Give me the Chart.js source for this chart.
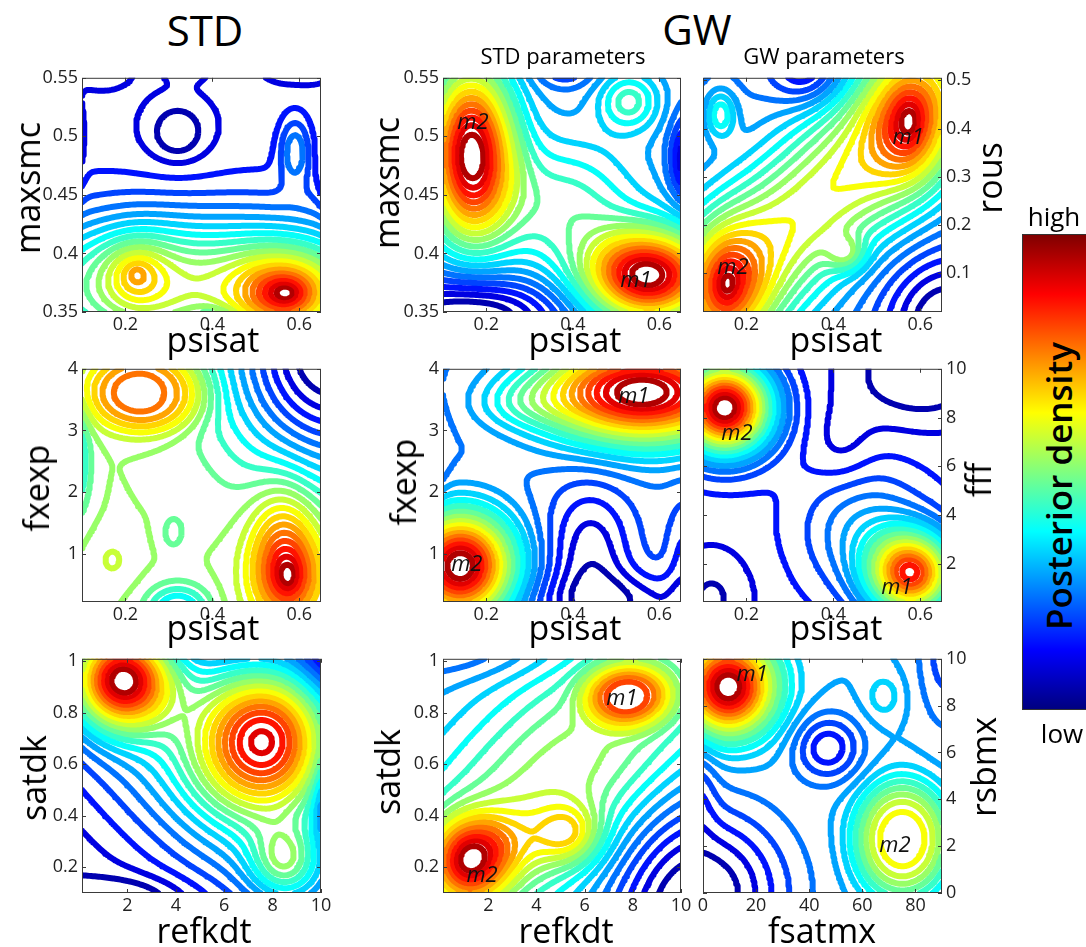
<!DOCTYPE html>
<html><head><meta charset="utf-8">
<script src="https://cdn.jsdelivr.net/npm/chart.js@4.4.1/dist/chart.umd.min.js"></script>
<style>
body{margin:0;background:#fff;width:1086px;height:947px;overflow:hidden;position:relative;font-family:'Open Sans',sans-serif;}
canvas{position:absolute;}
.t{position:absolute;white-space:nowrap;line-height:1;color:#000;transform:translate(-50%,-50%);}
.r{transform:translate(-50%,-50%) rotate(-90deg);}
#cbar{position:absolute;left:1022px;top:234px;width:64px;height:476px;box-sizing:border-box;border:1px solid #333;border-right:none;
background:linear-gradient(to top,rgb(0,0,128) 0%,rgb(0,0,255) 12.5%,rgb(0,255,255) 37.5%,rgb(255,255,0) 62.5%,rgb(255,0,0) 87.5%,rgb(128,0,0) 100%);}
</style></head><body>
<div id="cbar"></div>
<script>
// ---------------- data ----------------
const psisatRange = [0.1, 0.65];
const maxsmcRange = [0.35, 0.55];
const rousRange   = [0.02, 0.505];
const fxexpRange  = [0.22, 4];
const fffRange    = [0.44, 10];
const refkdtRange = [0.12, 10];
const satdkRange  = [0.1, 1.01];
const fsatmxRange = [0, 90];
const rsbmxRange  = [0, 10];

const psisatTicks = [0.2, 0.4, 0.6];
const maxsmcTicks = [0.35, 0.4, 0.45, 0.5, 0.55];
const rousTicks   = [0.1, 0.2, 0.3, 0.4, 0.5];
const fxexpTicks  = [1, 2, 3, 4];
const fffTicks    = [2, 4, 6, 8, 10];
const refkdtTicks = [2, 4, 6, 8, 10];
const satdkTicks  = [0.2, 0.4, 0.6, 0.8, 1];
const fsatmxTicks = [0, 20, 40, 60, 80];
const rsbmxTicks  = [0, 2, 4, 6, 8, 10];

// posterior density features: [x, y, weight, spreadX, spreadY, corr, shape]
const stdPsisatMaxsmcBase = 0.13;
const stdPsisatMaxsmc = [
  [0.57, 0.366, 0.6, 0.06, 0.018, 0, 1.4],
  [0.225, 0.383, 0.27, 0.045, 0.018, 0, 1.4],
  [0.35, 0.37, 0.45, 0.35, 0.045],
  [0.40, 0.34, -0.12, 0.04, 0.01],
  [0.32, 0.503, -0.09, 0.04, 0.015],
  [0.32, 0.503, -0.04, 0.08, 0.03],
  [0.59, 0.488, 0.16, 0.025, 0.02],
  [0.14, 0.56, -0.09, 0.045, 0.012],
  [0.34, 0.565, -0.08, 0.035, 0.01],
  [0.60, 0.565, -0.09, 0.06, 0.013],
  [0.09, 0.49, -0.06, 0.012, 0.03],
  [0.665, 0.47, -0.08, 0.015, 0.025]
];
const gwPsisatMaxsmcBase = 0.3;
const gwPsisatMaxsmc = [
  [0.165, 0.485, 0.65, 0.07, 0.05],
  [0.575, 0.381, 0.65, 0.1, 0.027],
  [0.38, 0.44, 0.18, 0.12, 0.04],
  [0.53, 0.53, 0.17, 0.05, 0.018],
  [0.67, 0.48, -0.2, 0.03, 0.025],
  [0.38, 0.56, -0.1, 0.05, 0.012],
  [0.16, 0.345, -0.25, 0.15, 0.025]
];
const gwPsisatRousBase = 0.2;
const gwPsisatRous = [
  [0.375, 0.26, 0.4, 0.3, 0.26, 0.85],
  [0.575, 0.415, 0.5, 0.05, 0.07, 0, 1.4],
  [0.155, 0.078, 0.5, 0.05, 0.065, 0, 1.4],
  [0.43, 0.14, 0.15, 0.03, 0.025],
  [0.14, 0.43, 0.18, 0.025, 0.035],
  [0.34, 0.52, -0.17, 0.06, 0.05],
  [0.66, 0.0, -0.25, 0.1, 0.1]
];
const stdPsisatFxexpBase = 0.5;
const stdPsisatFxexp = [
  [0.575, 0.62, 0.35, 0.04, 0.35, 0, 1.4],
  [0.565, 1.2, 0.2, 0.055, 0.7],
  [0.245, 3.62, 0.28, 0.108, 0.52, 0, 3],
  [0.68, 4.3, -0.55, 0.17, 1.4],
  [0.07, 2.5, -0.22, 0.03, 0.6],
  [0.32, 0.05, -0.22, 0.05, 0.3],
  [0.31, 1.35, -0.07, 0.02, 0.22],
  [0.17, 0.9, 0.05, 0.035, 0.3]
];
const gwPsisatFxexpBase = 0.32;
const gwPsisatFxexp = [
  [0.56, 3.62, 0.68, 0.16, 0.57],
  [0.28, 3.45, 0.08, 0.08, 0.3],
  [0.14, 0.8, 0.68, 0.085, 0.6],
  [0.44, 1.0, -0.14, 0.07, 0.8],
  [0.52, 0.2, -0.12, 0.15, 0.35],
  [0.66, 0.9, -0.08, 0.03, 0.7],
  [0.08, 2.6, -0.06, 0.02, 0.5]
];
const gwPsisatFffBase = 0.15;
const gwPsisatFff = [
  [0.15, 8.4, 0.85, 0.075, 1.3],
  [0.58, 1.6, 0.68, 0.07, 1.2],
  [0.47, 3.4, 0.15, 0.1, 1.8],
  [0.60, 9.8, -0.12, 0.12, 1.5],
  [0.12, 0.6, -0.08, 0.07, 1.5],
  [0.42, 6.8, -0.05, 0.05, 1.2]
];
const stdRefkdtSatdkBase = 0.0;
const stdRefkdtSatdk = [
  [5.0, 0.6, 0.3, 5.5, 0.5, -0.7],
  [1.8, 0.93, 0.75, 1.4, 0.13],
  [7.8, 0.71, 0.71, 2.0, 0.2],
  [8.5, 0.22, 0.26, 1.0, 0.1],
  [10.4, 0.45, -0.15, 0.4, 0.1],
  [10.4, 1.05, -0.1, 0.8, 0.1],
  [2.0, 0.08, -0.08, 1.8, 0.06]
];
const gwRefkdtSatdkBase = 0.2;
const gwRefkdtSatdk = [
  [5.0, 0.55, 0.32, 5.5, 0.5, 0.7],
  [1.2, 0.22, 0.5, 1.1, 0.11],
  [3.0, 0.30, 0.12, 1.6, 0.1],
  [5.4, 0.33, 0.2, 0.9, 0.08],
  [7.8, 0.87, 0.38, 1.45, 0.1, 0, 3],
  [10.5, 0.05, -0.3, 2.5, 0.3],
  [0.5, 1.05, -0.08, 3, 0.08]
];
const gwFsatmxRsbmxBase = 0.33;
const gwFsatmxRsbmx = [
  [9.5, 8.8, 0.7, 12, 1.4],
  [75, 2.3, 0.36, 14.5, 2.0, 0, 3],
  [47, 6.2, -0.17, 9, 1.0],
  [68, 8.4, 0.07, 5, 0.7],
  [0, 0, -0.28, 22, 2.5],
  [92, 10.5, -0.12, 8, 2.5],
  [-2, 4.5, -0.08, 5, 1.5]
];
// mode labels
const modesGwPsisatMaxsmc = [['m2', 0.169, 0.5115], ['m1', 0.546, 0.377]];
const modesGwPsisatRous   = [['m1', 0.572, 0.38], ['m2', 0.169, 0.112]];
const modesGwPsisatFxexp  = [['m1', 0.541, 3.54], ['m2', 0.155, 0.82]];
const modesGwPsisatFff    = [['m2', 0.178, 7.35], ['m1', 0.546, 1.04]];
const modesGwRefkdtSatdk  = [['m1', 7.55, 0.854], ['m2', 1.74, 0.168]];
const modesGwFsatmxRsbmx  = [['m1', 18.5, 9.3], ['m2', 72.3, 2.0]];

const contourLevels = 20;

// ---------------- layout (positions/sizes) ----------------
const colLeft = [82, 443, 703], colWidth = [239, 238, 239];
const rowTop = [73, 364, 654], rowHeight = [239, 238, 239];

const panels = [
  {r:0,c:0,xr:psisatRange,yr:maxsmcRange,xt:psisatTicks,yt:maxsmcTicks,base:stdPsisatMaxsmcBase,comps:stdPsisatMaxsmc,modes:[],side:'left'},
  {r:0,c:1,xr:psisatRange,yr:maxsmcRange,xt:psisatTicks,yt:maxsmcTicks,base:gwPsisatMaxsmcBase,comps:gwPsisatMaxsmc,modes:modesGwPsisatMaxsmc,side:'left'},
  {r:0,c:2,xr:psisatRange,yr:rousRange,xt:psisatTicks,yt:rousTicks,base:gwPsisatRousBase,comps:gwPsisatRous,modes:modesGwPsisatRous,side:'right'},
  {r:1,c:0,xr:psisatRange,yr:fxexpRange,xt:psisatTicks,yt:fxexpTicks,base:stdPsisatFxexpBase,comps:stdPsisatFxexp,modes:[],side:'left'},
  {r:1,c:1,xr:psisatRange,yr:fxexpRange,xt:psisatTicks,yt:fxexpTicks,base:gwPsisatFxexpBase,comps:gwPsisatFxexp,modes:modesGwPsisatFxexp,side:'left'},
  {r:1,c:2,xr:psisatRange,yr:fffRange,xt:psisatTicks,yt:fffTicks,base:gwPsisatFffBase,comps:gwPsisatFff,modes:modesGwPsisatFff,side:'right'},
  {r:2,c:0,xr:refkdtRange,yr:satdkRange,xt:refkdtTicks,yt:satdkTicks,base:stdRefkdtSatdkBase,comps:stdRefkdtSatdk,modes:[],side:'left'},
  {r:2,c:1,xr:refkdtRange,yr:satdkRange,xt:refkdtTicks,yt:satdkTicks,base:gwRefkdtSatdkBase,comps:gwRefkdtSatdk,modes:modesGwRefkdtSatdk,side:'left'},
  {r:2,c:2,xr:fsatmxRange,yr:rsbmxRange,xt:fsatmxTicks,yt:rsbmxTicks,base:gwFsatmxRsbmxBase,comps:gwFsatmxRsbmx,modes:modesGwFsatmxRsbmx,side:'right'}
];

// ---------------- density field + contour tracing ----------------
function compVal(c, x, y){
  const du=(x-c[0])/c[3], dv=(y-c[1])/c[4], r=c[5]||0, p=c[6]||2;
  const q=Math.max(0,(du*du-2*r*du*dv+dv*dv)/(1-r*r));
  return c[2]*Math.exp(-0.5*Math.pow(q,p/2));
}
function jet(t){
  const cl=v=>Math.max(0,Math.min(1,v));
  const r=cl(1.5-Math.abs(4*t-3)), g=cl(1.5-Math.abs(4*t-2)), b=cl(1.5-Math.abs(4*t-1));
  return 'rgb('+Math.round(r*255)+','+Math.round(g*255)+','+Math.round(b*255)+')';
}
function buildContours(p){
  const nx=131, ny=131;
  const xs=[], ys=[];
  for(let i=0;i<nx;i++) xs.push(p.xr[0]+(p.xr[1]-p.xr[0])*i/(nx-1));
  for(let j=0;j<ny;j++) ys.push(p.yr[0]+(p.yr[1]-p.yr[0])*j/(ny-1));
  const F=new Float64Array(nx*ny);
  let fmin=Infinity,fmax=-Infinity;
  for(let j=0;j<ny;j++)for(let i=0;i<nx;i++){
    let v=p.base; for(const c of p.comps) v+=compVal(c,xs[i],ys[j]);
    F[j*nx+i]=v; if(v<fmin)fmin=v; if(v>fmax)fmax=v;
  }
  const sets=[];
  for(let k=0;k<contourLevels;k++){
    const t=(k+1)/(contourLevels+1);
    const L=fmin+t*(fmax-fmin);
    const pts=new Map();
    const H=(i,j)=>2*(j*nx+i), V=(i,j)=>2*(j*nx+i)+1;
    const getPt=(id)=>{
      if(pts.has(id)) return;
      const base=id>>1, isV=id&1; const i=base%nx, j=(base-i)/nx;
      const i1=isV?i:i+1, j1=isV?j+1:j;
      const a=F[j*nx+i], b=F[j1*nx+i1]; const s=(L-a)/(b-a);
      const gx=i+(i1-i)*s, gy=j+(j1-j)*s;
      pts.set(id,{x:p.xr[0]+(p.xr[1]-p.xr[0])*gx/(nx-1), y:p.yr[0]+(p.yr[1]-p.yr[0])*gy/(ny-1)});
    };
    const segs=[];
    const add=(a,b)=>{getPt(a);getPt(b);segs.push([a,b]);};
    for(let j=0;j<ny-1;j++)for(let i=0;i<nx-1;i++){
      const v0=F[j*nx+i],v1=F[j*nx+i+1],v2=F[(j+1)*nx+i+1],v3=F[(j+1)*nx+i];
      const idx=(v0>L?1:0)|(v1>L?2:0)|(v2>L?4:0)|(v3>L?8:0);
      if(idx===0||idx===15) continue;
      const B=H(i,j), R=V(i+1,j), T=H(i,j+1), Lf=V(i,j);
      const cen=(v0+v1+v2+v3)/4;
      switch(idx){
        case 1: case 14: add(Lf,B); break;
        case 2: case 13: add(B,R); break;
        case 3: case 12: add(Lf,R); break;
        case 4: case 11: add(R,T); break;
        case 6: case 9: add(B,T); break;
        case 7: case 8: add(Lf,T); break;
        case 5: if(cen>L){add(B,R);add(Lf,T);} else {add(Lf,B);add(R,T);} break;
        case 10: if(cen>L){add(Lf,B);add(R,T);} else {add(B,R);add(Lf,T);} break;
      }
    }
    const adj=new Map();
    segs.forEach((s,n)=>{for(const e of s){if(!adj.has(e))adj.set(e,[]);adj.get(e).push(n);}});
    const used=new Uint8Array(segs.length);
    const data=[];
    for(let n=0;n<segs.length;n++){
      if(used[n]) continue; used[n]=1;
      const line=[segs[n][0],segs[n][1]];
      let cur=segs[n][1];
      while(true){
        let nx2=-1; for(const m of adj.get(cur)) if(!used[m]){nx2=m;break;}
        if(nx2<0) break; used[nx2]=1;
        const o=segs[nx2][0]===cur?segs[nx2][1]:segs[nx2][0]; line.push(o); cur=o;
        if(cur===line[0]) break;
      }
      cur=segs[n][0];
      if(line[line.length-1]!==line[0]){
        while(true){
          let nx2=-1; for(const m of adj.get(cur)) if(!used[m]){nx2=m;break;}
          if(nx2<0) break; used[nx2]=1;
          const o=segs[nx2][0]===cur?segs[nx2][1]:segs[nx2][0]; line.unshift(o); cur=o;
        }
      }
      for(const id of line){const q=pts.get(id); data.push({x:q.x,y:q.y});}
      data.push({x:null,y:null});
    }
    sets.push({data, showLine:true, borderColor:jet(t), backgroundColor:jet(t), borderWidth:6,
      pointRadius:0, pointHoverRadius:0, tension:0, fill:false, spanGaps:false, clip:0,
      borderCapStyle:'round', borderJoinStyle:'round'});
  }
  return sets;
}

// ---------------- plugins ----------------
const boxPlugin={id:'box',afterDatasetsDraw(chart){
  const {ctx,chartArea:a}=chart; ctx.save();
  ctx.strokeStyle='#3a3a3a'; ctx.lineWidth=1;
  ctx.strokeRect(a.left+0.5,a.top+0.5,a.right-a.left-1,a.bottom-a.top-1);
  ctx.beginPath();
  const xs=chart.scales.x, ys=chart.scales.y;
  xs.ticks.forEach(t=>{const p=Math.round(xs.getPixelForValue(t.value))+0.5;ctx.moveTo(p,a.bottom);ctx.lineTo(p,a.bottom-4);ctx.moveTo(p,a.top);ctx.lineTo(p,a.top+4);});
  ys.ticks.forEach(t=>{const p=Math.round(ys.getPixelForValue(t.value))+0.5;ctx.moveTo(a.left,p);ctx.lineTo(a.left+4,p);ctx.moveTo(a.right,p);ctx.lineTo(a.right-4,p);});
  ctx.stroke(); ctx.restore();
}};
const modePlugin={id:'modes',afterDatasetsDraw(chart,args,opts){
  const items=opts.items||[]; const ctx=chart.ctx; ctx.save();
  ctx.font='italic 22px "Open Sans"'; ctx.fillStyle='#111'; ctx.textAlign='center'; ctx.textBaseline='middle';
  for(const it of items){ctx.fillText(it[0],chart.scales.x.getPixelForValue(it[1]),chart.scales.y.getPixelForValue(it[2]));}
  ctx.restore();
}};

// ---------------- charts ----------------
const tickFont={family:'Open Sans',size:18};
panels.forEach(p=>{
  const L=colLeft[p.c], T=rowTop[p.r], W=colWidth[p.c], Hh=rowHeight[p.r];
  const cv=document.createElement('canvas');
  const cw=W+100, ch=Hh+40;
  cv.width=cw; cv.height=ch; cv.style.width=cw+'px'; cv.style.height=ch+'px';
  cv.style.left=(L-50)+'px'; cv.style.top=(T-10)+'px';
  document.body.appendChild(cv);
  const fmt=v=>String(v);
  new Chart(cv,{type:'scatter',data:{datasets:buildContours(p)},plugins:[boxPlugin,modePlugin],
    options:{responsive:false,animation:false,events:[],
      layout:{padding:{left:p.side==='right'?50:0,right:p.side==='left'?50:0,top:10,bottom:0}},
      plugins:{legend:{display:false},tooltip:{enabled:false},modes:{items:p.modes}},
      scales:{
        x:{type:'linear',min:p.xr[0],max:p.xr[1],
          afterBuildTicks:s=>{s.ticks=p.xt.map(v=>({value:v}));},
          afterFit:s=>{s.height=30;},
          grid:{display:false,drawTicks:false},border:{display:false},
          ticks:{font:tickFont,color:'#222',padding:2,maxRotation:0,autoSkip:false,callback:fmt}},
        y:{type:'linear',position:p.side,min:p.yr[0],max:p.yr[1],
          afterBuildTicks:s=>{s.ticks=p.yt.map(v=>({value:v}));},
          afterFit:s=>{s.width=50;},
          grid:{display:false,drawTicks:false},border:{display:false},
          ticks:{font:tickFont,color:'#222',padding:4,autoSkip:false,callback:fmt}}
      }}});
});

// ---------------- text ----------------
const texts=[
  ['STD',205,30,42,0,''],['GW',697,29,42,0,''],
  ['STD parameters',563,55,22,0,''],['GW parameters',824,55,22,0,''],
  ['maxsmc',27,188,34,1,''],['maxsmc',386,183,34,1,''],['rous',989,178,34,1,''],
  ['fxexp',36,488,34,1,''],['fxexp',403,482,34,1,''],['fff',978,480,34,1,''],
  ['satdk',33,778,34,1,''],['satdk',387,772,34,1,''],['rsbmx',983,767,34,1,''],
  ['psisat',213,339,34,0,''],['psisat',575,339,34,0,''],['psisat',836,339,34,0,''],
  ['psisat',213,627,34,0,''],['psisat',575,627,34,0,''],['psisat',836,627,34,0,''],
  ['refkdt',204,930,34,0,''],['refkdt',566,930,34,0,''],['fsatmx',822,930,34,0,''],
  ['high',1054,216,26,0,''],['low',1062,733,26,0,''],
  ['Posterior density',1058,486,35,1,'font-weight:600;']
];
texts.forEach(([s,x,y,f,rot,extra])=>{
  const d=document.createElement('div'); d.className='t'+(rot?' r':''); d.textContent=s;
  d.style.cssText+='left:'+x+'px;top:'+y+'px;font-size:'+f+'px;'+extra; document.body.appendChild(d);
});
</script>
</body></html>
